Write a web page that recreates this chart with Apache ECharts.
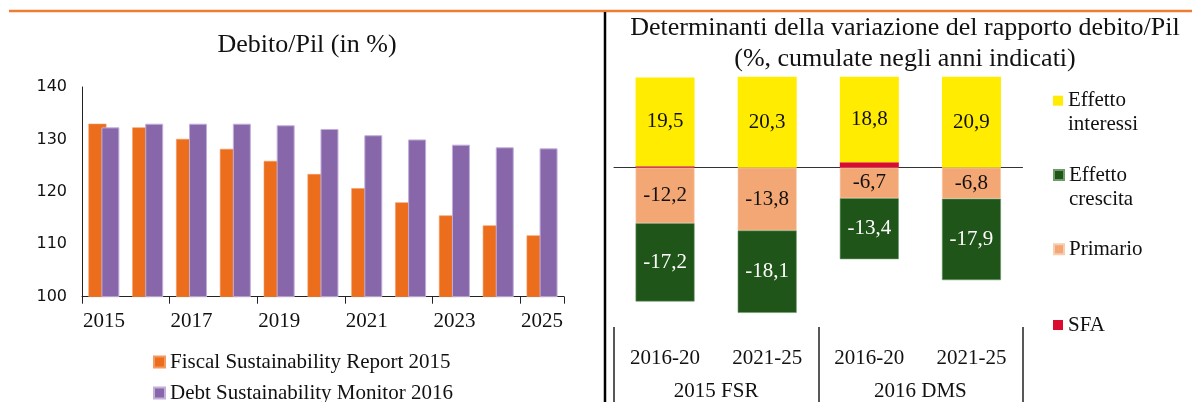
<!DOCTYPE html>
<html>
<head>
<meta charset="utf-8">
<script src="https://cdn.jsdelivr.net/npm/echarts@6/dist/echarts.min.js"></script>
<style>
  html, body { margin: 0; padding: 0; background: #fff; }
  #chart { width: 1192px; height: 402px; }
</style>
</head>
<body>
<div id="chart"></div>
<script>
// left chart: debt/GDP
const years = ['2015', '2016', '2017', '2018', '2019', '2020', '2021', '2022', '2023', '2024', '2025']
const fsr2015 = [133.0, 132.3, 130.1, 128.2, 125.9, 123.4, 120.7, 118.0, 115.5, 113.6, 111.7]
const dsm2016 = [132.3, 133.0, 133.0, 133.0, 132.7, 132.0, 130.8, 130.0, 129.0, 128.5, 128.3]

// right chart: determinants
const groups = ['2015 FSR', '2016 DMS']
const periods = ['2016-20', '2021-25', '2016-20', '2021-25']
const interessi = [19.5, 20.3, 18.8, 20.9]
const crescita = [-17.2, -18.1, -13.4, -17.9]
const primario = [-12.2, -13.8, -6.7, -6.8]
const sfa = [0.3, 0, 1.2, 0]

const barKeys = periods.map((p, i) => groups[Math.floor(i / 2)] + ' ' + p)

const serif = '"Liberation Serif", "Times New Roman", serif'
const txt = '#111'

const chart = echarts.init(document.getElementById('chart'))

function comma (p) {
    return String(p.value).replace('.', ',')
}

function stackLabel (color) {
    return {
        show: true,
        position: 'inside',
        formatter: comma,
        color: color,
        fontFamily: serif,
        fontSize: 21
    }
}

// one legend per entry, so every square sits where it should
function oneLegend (name, left, top, size, twoLines) {
    return {
        data: [name],
        left: left,
        top: top,
        padding: 0,
        icon: 'rect',
        itemWidth: size,
        itemHeight: size,
        selectedMode: false,
        // blank first line keeps the square level with the first text line
        formatter: twoLines ? n => ' \n' + n.replace(' ', '\n') : n => n,
        textStyle: { fontFamily: serif, fontSize: 21, lineHeight: 24, color: txt }
    }
}

const option = {
    animation: false,
    textStyle: { fontFamily: serif },
    graphic: [
        { type: 'line', shape: { x1: 9, y1: 11, x2: 1192, y2: 11 }, style: { stroke: '#ED7D31', lineWidth: 2.5 } },
        { type: 'line', shape: { x1: 605, y1: 12, x2: 605, y2: 402 }, style: { stroke: '#000', lineWidth: 2.5 } },
        { type: 'text', x: 307, y: 45, style: { text: 'Debito/Pil (in %)', align: 'center', verticalAlign: 'middle', font: '26px ' + serif, fill: txt } },
        { type: 'text', x: 905, y: 28, style: { text: 'Determinanti della variazione del rapporto debito/Pil', align: 'center', verticalAlign: 'middle', font: '26px ' + serif, fill: txt } },
        { type: 'text', x: 905, y: 59, style: { text: '(%, cumulate negli anni indicati)', align: 'center', verticalAlign: 'middle', font: '26px ' + serif, fill: txt } }
    ],
    legend: [
        oneLegend('Fiscal Sustainability Report 2015', 153, 350, 11, false),
        oneLegend('Debt Sustainability Monitor 2016', 153, 381, 11, false),
        oneLegend('Effetto interessi', 1053, 64.7, 10, true),
        oneLegend('Effetto crescita', 1053, 139, 10, true),
        oneLegend('Primario', 1053, 237.3, 10, false),
        oneLegend('SFA', 1053, 313, 10, false)
    ],
    grid: [
        { left: 82, right: 628, top: 87, bottom: 105.3 },
        { left: 614, right: 169.5, top: 76.7, bottom: 75 }
    ],
    xAxis: [
        {
            gridIndex: 0,
            type: 'category',
            data: years,
            axisLine: { lineStyle: { color: '#222', width: 1 } },
            axisTick: { show: true, length: 7, lineStyle: { color: '#222' } },
            axisLabel: { interval: 1, margin: 14, fontFamily: serif, fontSize: 21, color: txt }
        },
        {
            gridIndex: 1,
            type: 'category',
            data: barKeys,
            axisLine: { onZero: true, lineStyle: { color: '#333', width: 1 } },
            axisTick: { show: false },
            axisLabel: { show: false }
        },
        {
            gridIndex: 1,
            type: 'category',
            position: 'bottom',
            data: periods,
            axisLine: { show: false, onZero: false },
            axisTick: { show: false },
            axisLabel: { margin: 21, fontFamily: serif, fontSize: 21, color: txt }
        },
        {
            gridIndex: 1,
            type: 'category',
            position: 'bottom',
            data: groups,
            axisLine: { show: false, onZero: false },
            axisTick: { show: true, length: 76, lineStyle: { color: '#222', width: 1.5 } },
            axisLabel: { margin: 54, fontFamily: serif, fontSize: 21, color: txt }
        }
    ],
    yAxis: [
        {
            gridIndex: 0,
            type: 'value',
            min: 100,
            max: 140,
            interval: 10,
            axisLine: { show: true, lineStyle: { color: '#222', width: 1 } },
            axisTick: { show: false },
            splitLine: { show: false },
            axisLabel: { margin: 15, fontFamily: '"DejaVu Sans", sans-serif', fontSize: 16, color: txt }
        },
        {
            gridIndex: 1,
            type: 'value',
            min: -35,
            max: 20,
            show: false
        }
    ],
    series: [
        {
            name: 'Fiscal Sustainability Report 2015',
            type: 'bar',
            xAxisIndex: 0,
            yAxisIndex: 0,
            data: fsr2015,
            barWidth: 18,
            barGap: '-28%',
            itemStyle: { color: '#EC6D1C', borderColor: '#F39A60', borderWidth: 0.6 }
        },
        {
            name: 'Debt Sustainability Monitor 2016',
            type: 'bar',
            xAxisIndex: 0,
            yAxisIndex: 0,
            data: dsm2016,
            barWidth: 18,
            barGap: '-28%',
            itemStyle: { color: '#8767AA', borderColor: '#C3B0DA', borderWidth: 1 }
        },
        {
            name: 'SFA',
            type: 'bar',
            stack: 'det',
            xAxisIndex: 1,
            yAxisIndex: 1,
            data: sfa,
            barWidth: 59,
            itemStyle: { color: '#DA0B2E' }
        },
        {
            name: 'Effetto interessi',
            type: 'bar',
            stack: 'det',
            xAxisIndex: 1,
            yAxisIndex: 1,
            data: interessi,
            barWidth: 59,
            itemStyle: { color: '#FFEC00' },
            label: stackLabel('#111')
        },
        {
            name: 'Primario',
            type: 'bar',
            stack: 'det',
            xAxisIndex: 1,
            yAxisIndex: 1,
            data: primario,
            barWidth: 59,
            itemStyle: { color: '#F3A774', borderColor: '#F8CDB0', borderWidth: 0.6 },
            label: stackLabel('#111')
        },
        {
            name: 'Effetto crescita',
            type: 'bar',
            stack: 'det',
            xAxisIndex: 1,
            yAxisIndex: 1,
            data: crescita,
            barWidth: 59,
            itemStyle: { color: '#1F5519', borderColor: '#6F9A6A', borderWidth: 0.6 },
            label: stackLabel('#fff')
        }
    ]
}

chart.setOption(option)
</script>
</body>
</html>
